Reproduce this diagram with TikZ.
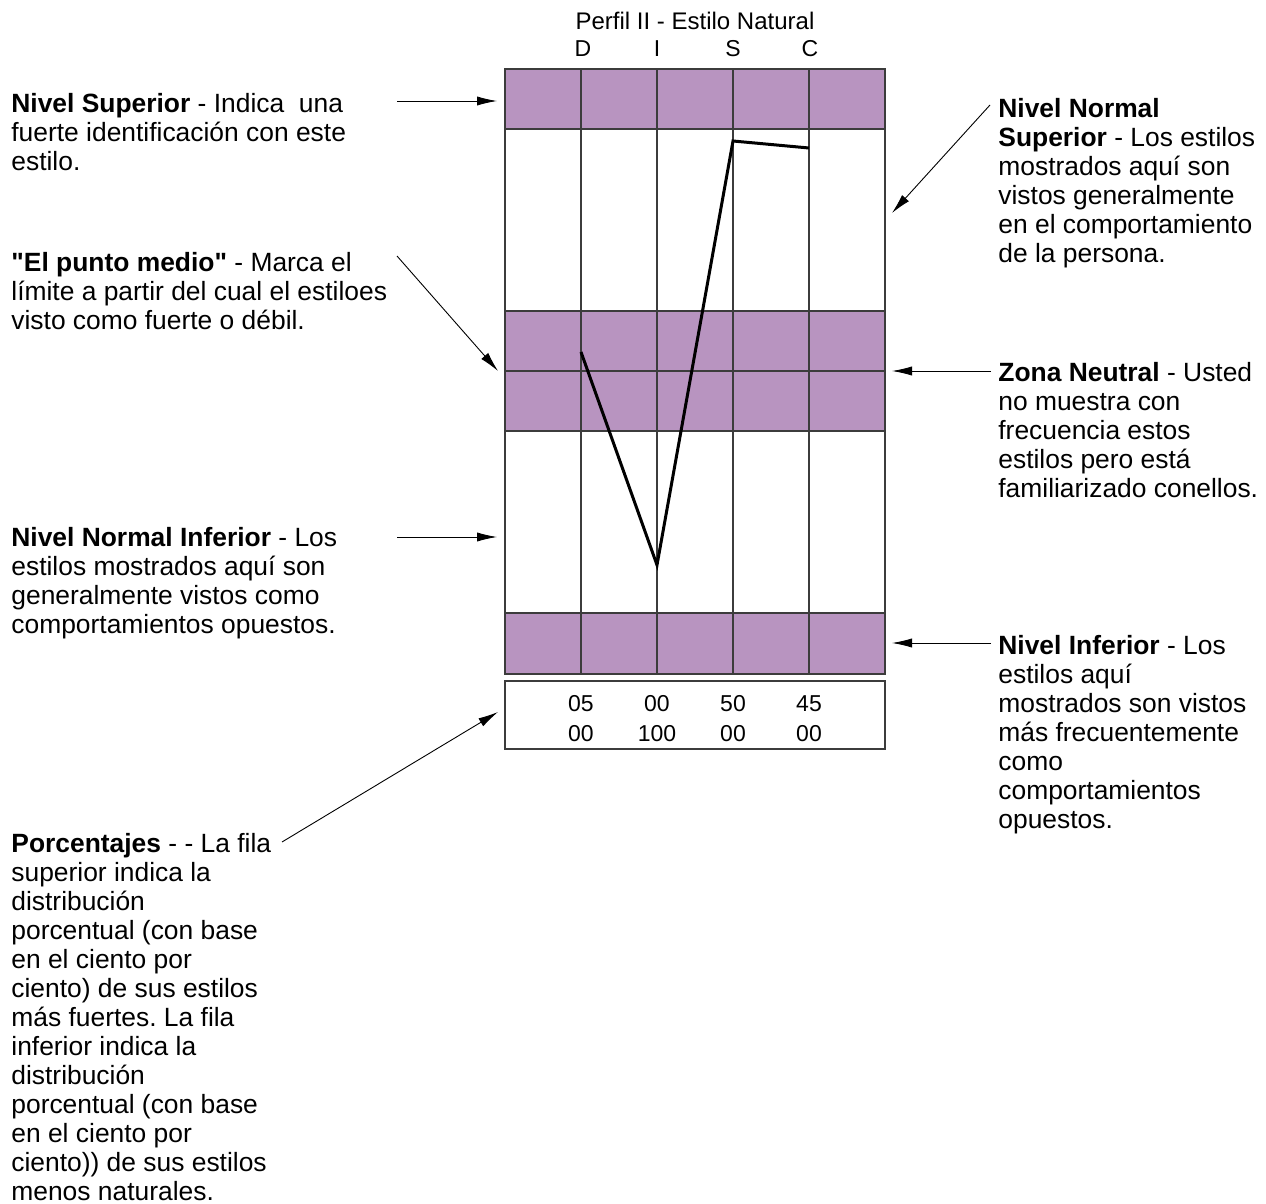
\documentclass[tikz,border=0pt]{standalone}
\usepackage{fontspec}
\setmainfont{Liberation Sans}[Ligatures=TeXOff]
\usepackage{tikz}
\usetikzlibrary{arrows.meta,positioning}
\definecolor{discPurple}{RGB}{184,148,192}
\definecolor{gridGray}{RGB}{60,60,60}
\frenchspacing

\begin{document}
\begin{tikzpicture}[x=0.5pt, y=-0.5pt,
  band/.style={fill=discPurple, draw=gridGray, line width=0.6pt},
  gridline/.style={draw=gridGray, line width=0.6pt},
  pointer/.style={-{Latex[length=10pt,width=4.6pt]}, line width=0.45pt},
  note/.style={anchor=north west, align=left, inner sep=0pt, font=\fontsize{13.2}{14.5}\selectfont},
  small/.style={anchor=base, inner sep=0pt, font=\fontsize{11.5}{13}\selectfont}]
\useasboundingbox (0,0) rectangle (1266,1204);

\draw[band] (505,69) rectangle (885,129);
\draw[band] (505,311) rectangle (885,431);
\draw[band] (505,613) rectangle (885,674);
\draw[gridline] (505,69) rectangle (885,674);
\draw[gridline] (505,371) -- (885,371);
\draw[gridline] (581,69) -- (581,674);
\draw[gridline] (657,69) -- (657,674);
\draw[gridline] (733,69) -- (733,674);
\draw[gridline] (809,69) -- (809,674);
\draw[gridline] (505,681) rectangle (885,749);

\coordinate (dPt) at (581,352);
\coordinate (iPt) at (657,565);
\coordinate (sPt) at (733,141);
\coordinate (cPt) at (809,148);
\draw[line width=1.5pt] (dPt) -- (iPt) -- (sPt) -- (cPt);

\node[small, font=\fontsize{12}{13}\selectfont] (title) at (695,30) {Perfil II - Estilo Natural};
\node[small] (colD) at (583,57) {D};
\node[small] (colI) at (657,57) {I};
\node[small] (colS) at (733,57) {S};
\node[small] (colC) at (810,57) {C};

\node[small] (topD) at (581,711) {05};
\node[small] (topI) at (657,711) {00};
\node[small] (topS) at (733,711) {50};
\node[small] (topC) at (809,711) {45};
\node[small] (botD) at (581,741) {00};
\node[small] (botI) at (657,741) {100};
\node[small] (botS) at (733,741) {00};
\node[small] (botC) at (809,741) {00};

\node[note] (supNote) at (11,93) {\textbf{Nivel Superior} - Indica\ \ una\\fuerte identificación con este\\estilo.};
\node[note] (midNote) at (11,252) {\textbf{"El punto medio"} - Marca el\\límite a partir del cual el estiloes\\visto como fuerte o débil.};
\node[note] (lowNormNote) at (11,527) {\textbf{Nivel Normal Inferior} - Los\\estilos mostrados aquí son\\generalmente vistos como\\comportamientos opuestos.};
\node[note] (pctNote) at (11,833) {\textbf{Porcentajes} - - La fila\\superior indica la\\distribución\\porcentual (con base\\en el ciento por\\ciento) de sus estilos\\más fuertes. La fila\\inferior indica la\\distribución\\porcentual (con base\\en el ciento por\\ciento)) de sus estilos\\menos naturales.};

\node[note] (upNormNote) at (998,98) {\textbf{Nivel Normal}\\\textbf{Superior} - Los estilos\\mostrados aquí son\\vistos generalmente\\en el comportamiento\\de la persona.};
\node[note] (neutNote) at (998,362) {\textbf{Zona Neutral} - Usted\\no muestra con\\frecuencia estos\\estilos pero está\\familiarizado conellos.};
\node[note] (lowNote) at (998,635) {\textbf{Nivel Inferior} - Los\\estilos aquí\\mostrados son vistos\\más frecuentemente\\como\\comportamientos\\opuestos.};

\coordinate (supTail) at (397,101);
\coordinate (supTip) at (497,101);
\coordinate (midTail) at (397,256);
\coordinate (midTip) at (498,371);
\coordinate (lowNormTail) at (397,537);
\coordinate (lowNormTip) at (497,537);
\coordinate (pctTail) at (282,842);
\coordinate (pctTip) at (498,712);
\coordinate (upNormTail) at (990,105);
\coordinate (upNormTip) at (892,213);
\coordinate (neutTail) at (991,371);
\coordinate (neutTip) at (892,371);
\coordinate (lowTail) at (991,643);
\coordinate (lowTip) at (892,643);

\draw[pointer] (supTail) -- (supTip);
\draw[pointer] (midTail) -- (midTip);
\draw[pointer] (lowNormTail) -- (lowNormTip);
\draw[pointer] (pctTail) -- (pctTip);
\draw[pointer] (upNormTail) -- (upNormTip);
\draw[pointer] (neutTail) -- (neutTip);
\draw[pointer] (lowTail) -- (lowTip);
\end{tikzpicture}
\end{document}
